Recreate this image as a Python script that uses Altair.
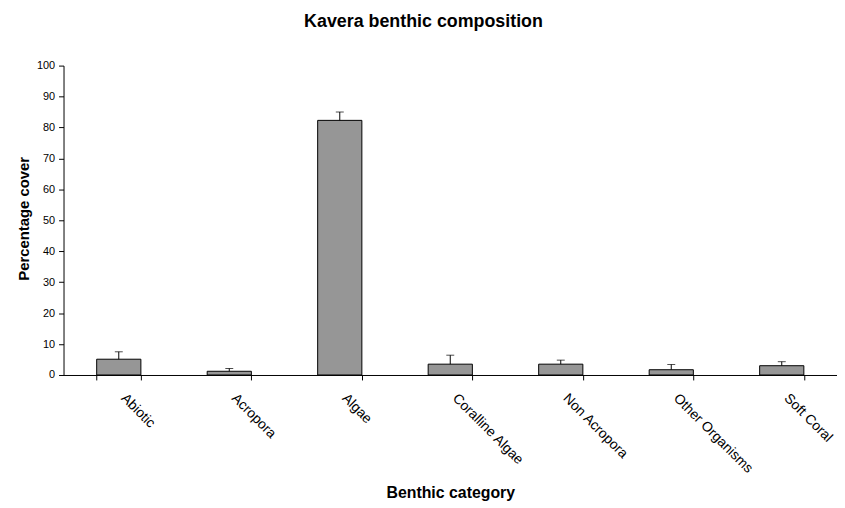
import altair as alt
import pandas as pd

categories = ["Abiotic", "Acropora", "Algae", "Coralline Algae", "Non Acropora", "Other Organisms", "Soft Coral"]
cover = [5.1, 1.2, 82.3, 3.5, 3.5, 1.7, 3.0]
upper = [7.5, 2.1, 85.0, 6.4, 4.8, 3.4, 4.3]
y_ticks = [0, 10, 20, 30, 40, 50, 60, 70, 80, 90, 100]

df = pd.DataFrame({"cat": categories, "cover": cover, "upper": upper})

FONT = "Liberation Sans"

x_scale = alt.Scale(paddingInner=0.6, paddingOuter=0.3)
x_axis = alt.Axis(title="Benthic category", labelAngle=45, labelAlign="left",
                  labelBaseline="top", labelPadding=11, labelOffset=9,
                  tickBand="extent", labelOverlap=False,
                  tickSize=5, tickColor="black", domainColor="black",
                  labelColor="black", labelFontSize=14, labelFont=FONT,
                  titleFont=FONT, titleFontSize=16, titleFontWeight="bold",
                  titleY=124, titleBaseline="alphabetic", titleColor="black")
y_scale = alt.Scale(domain=[0, 100], nice=False)
y_axis = alt.Axis(title="Percentage cover", values=y_ticks, labelOverlap=False,
                  tickSize=5, tickColor="black", domainColor="black",
                  labelColor="black", labelFontSize=11, labelFont=FONT,
                  labelPadding=4, grid=False,
                  titleFont=FONT, titleFontSize=15, titleFontWeight="bold",
                  titleX=-35, titleY=154, titleAngle=-90, titleBaseline="alphabetic",
                  titleAlign="center", titleColor="black")

def xenc():
    return alt.X("cat:N", sort=categories, scale=x_scale, axis=x_axis)

bars = alt.Chart(df).mark_bar(color="#969696", stroke="black", strokeWidth=1).encode(
    x=xenc(), y=alt.Y("cover:Q", scale=y_scale, axis=y_axis))
err = alt.Chart(df).mark_rule(color="black", strokeWidth=1).encode(
    x=xenc(), y=alt.Y("cover:Q", scale=y_scale, axis=y_axis), y2="upper:Q")
cap = alt.Chart(df).mark_tick(color="black", size=8, thickness=1, orient="horizontal").encode(
    x=xenc(), y=alt.Y("upper:Q", scale=y_scale, axis=y_axis))

chart = alt.layer(bars, err, cap).properties(
    width=780, height=312,
    title=alt.TitleParams("Kavera benthic composition", font=FONT, fontSize=18,
                          fontWeight="bold", color="black", anchor="middle",
                          frame="group", dx=-27, offset=29),
    autosize=alt.AutoSizeParams(type="none"),
    padding={"left": 56, "top": 56, "right": 0, "bottom": 127},
).configure_view(stroke=None)

chart.save("out.html", embed_options={"renderer": "svg", "actions": False})
